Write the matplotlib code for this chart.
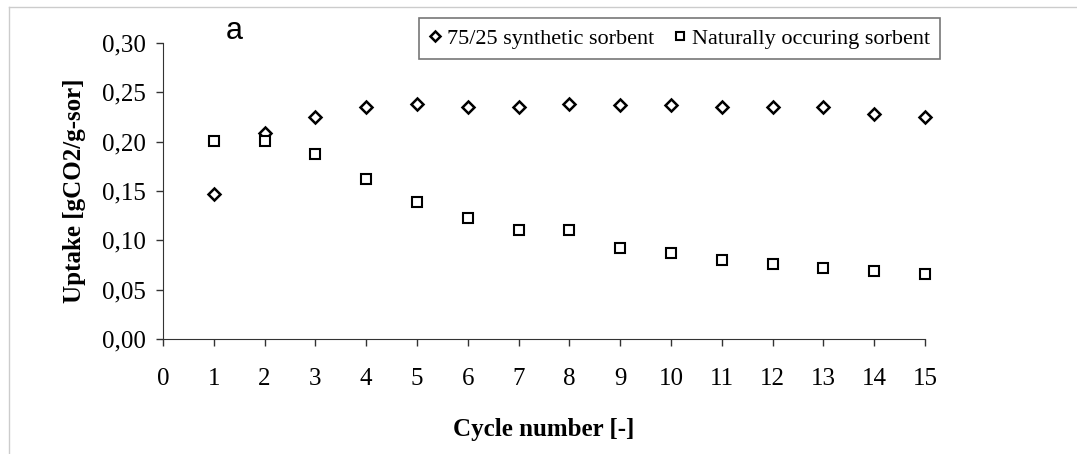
import matplotlib.pyplot as plt
from matplotlib.lines import Line2D

cycles = list(range(1, 16))
synthetic = [0.147, 0.209, 0.225, 0.235, 0.238, 0.235, 0.235, 0.238,
             0.237, 0.237, 0.235, 0.235, 0.235, 0.228, 0.225]
natural = [0.201, 0.201, 0.187, 0.162, 0.139, 0.123, 0.110, 0.110,
           0.092, 0.087, 0.080, 0.076, 0.072, 0.069, 0.066]
x_ticks = list(range(0, 16))
y_ticks = [0.0, 0.05, 0.10, 0.15, 0.20, 0.25, 0.30]
y_ticklabels = ["0,00", "0,05", "0,10", "0,15", "0,20", "0,25", "0,30"]

plt.rcParams['font.family'] = 'Liberation Serif'

fig = plt.figure(figsize=(10.77, 4.54), dpi=100)
ax = fig.add_axes([0.1513, 0.2533, 0.7076, 0.652])

ax.plot(cycles, synthetic, linestyle='none', marker='D', ms=6.5,
        mfc='white', mec='black', mew=1.8, clip_on=False,
        label='75/25 synthetic sorbent')
ax.plot(cycles, natural, linestyle='none', marker='s', ms=7,
        mfc='white', mec='black', mew=1.5, clip_on=False,
        label='Naturally occuring sorbent')

ax.set_xlim(0, 15)
ax.set_ylim(0, 0.30)
ax.set_xticks(x_ticks)
ax.set_yticks(y_ticks)
ax.set_yticklabels(y_ticklabels)
ax.tick_params(axis='both', direction='out', length=5, width=1,
               labelsize=18, color='#333333')
ax.tick_params(axis='x', pad=16)
ax.tick_params(axis='y', pad=7)
for s in ['top', 'right']:
    ax.spines[s].set_visible(False)
for s in ['left', 'bottom']:
    ax.spines[s].set_color('#333333')

ax.set_xlabel('Cycle number [-]', fontsize=18, fontweight='bold', labelpad=20)
ax.set_ylabel('Uptake [gCO2/g-sor]', fontsize=18, fontweight='bold', labelpad=12)

leg = fig.legend(loc='upper left', bbox_to_anchor=(419 / 1077, 1 - 18 / 454),
                 ncol=2, fontsize=16, frameon=True, fancybox=False,
                 handlelength=0.5, handletextpad=0.3, columnspacing=0.9,
                 borderpad=0.45, borderaxespad=0, markerscale=0.75)
leg.get_frame().set_edgecolor('#555555')
leg.get_frame().set_linewidth(1.2)

fig.text(226 / 1077, 1 - 39 / 454, 'a', fontsize=22, family='Liberation Sans')

# light frame lines at top and left edges
fig.add_artist(Line2D([9 / 1077, 1], [1 - 7 / 454, 1 - 7 / 454],
                      color='#cccccc', lw=1, transform=fig.transFigure))
fig.add_artist(Line2D([9 / 1077, 9 / 1077], [0, 1 - 7 / 454],
                      color='#cccccc', lw=1, transform=fig.transFigure))

fig.savefig('out.png', dpi=100)
